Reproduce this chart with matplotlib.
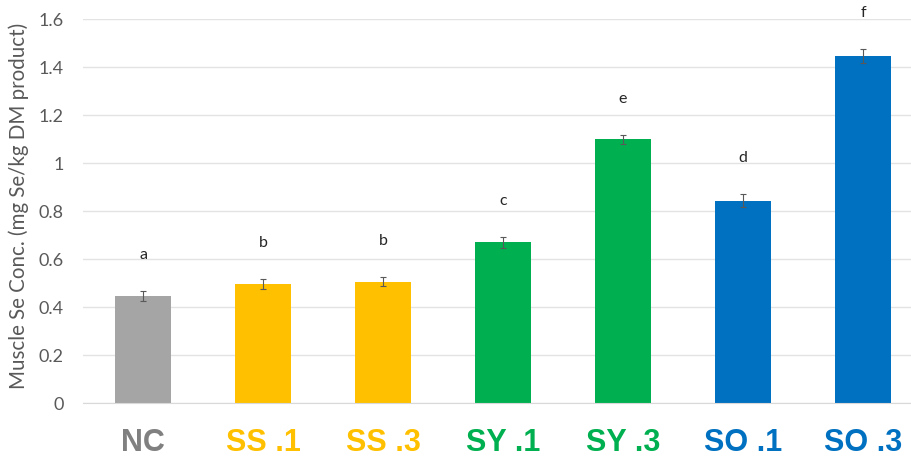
import matplotlib
matplotlib.use("Agg")
import matplotlib.pyplot as plt

# Muscle selenium concentration by treatment
categories = ["NC", "SS .1", "SS .3", "SY .1", "SY .3", "SO .1", "SO .3"]
values = [0.446, 0.496, 0.506, 0.669, 1.098, 0.843, 1.446]
errors = [0.020, 0.022, 0.020, 0.022, 0.020, 0.027, 0.028]
letters = ["a", "b", "b", "c", "e", "d", "f"]
colors = ["#A5A5A5", "#FFC000", "#FFC000", "#00B050", "#00B050", "#0070C0", "#0070C0"]
label_colors = ["#808080", "#FFC000", "#FFC000", "#00B050", "#00B050", "#0070C0", "#0070C0"]
yticks = [0, 0.2, 0.4, 0.6, 0.8, 1, 1.2, 1.4, 1.6]
ytick_labels = ["0", "0.2", "0.4", "0.6", "0.8", "1", "1.2", "1.4", "1.6"]

fig = plt.figure(figsize=(9.11, 4.61), dpi=100)
ax = fig.add_axes([83 / 911, 58 / 461, 840 / 911, 384 / 461])

x = list(range(len(categories)))
ax.bar(x, values, width=0.47, color=colors, zorder=2)
ax.errorbar(x, values, yerr=errors, fmt="none", ecolor="#595959",
            elinewidth=0.8, capsize=2.5, capthick=0.8, zorder=3)

for xi, v, e, s in zip(x, values, errors, letters):
    ax.text(xi, v + e + 0.15, s, ha="center", va="center", fontsize=11.5,
            color="#262626", family="Lato", clip_on=False)

ax.set_xlim(-0.5, len(categories) - 0.5)
ax.set_ylim(0, 1.6)
ax.set_yticks(yticks)
ax.set_yticklabels(ytick_labels, family="Lato", fontsize=13, color="#595959")
ax.yaxis.grid(True, color="#E3E3E3", linewidth=1, zorder=0)
ax.set_axisbelow(True)
for side in ["top", "right", "left"]:
    ax.spines[side].set_visible(False)
ax.spines["bottom"].set_color("#D9D9D9")
ax.tick_params(axis="y", length=0, pad=14)
ax.tick_params(axis="x", length=0, pad=18)

ax.set_xticks(x)
ax.set_xticklabels(categories, family="Liberation Sans", fontweight="bold",
                   fontsize=22)
for lbl, c in zip(ax.get_xticklabels(), label_colors):
    lbl.set_color(c)

fig.text(19 / 911, 1 - 206 / 461, "Muscle Se Conc. (mg Se/kg DM product)",
         rotation=90, ha="center", va="center", fontsize=14.8,
         family="Lato", color="#595959")

fig.savefig("out.png", dpi=100)
